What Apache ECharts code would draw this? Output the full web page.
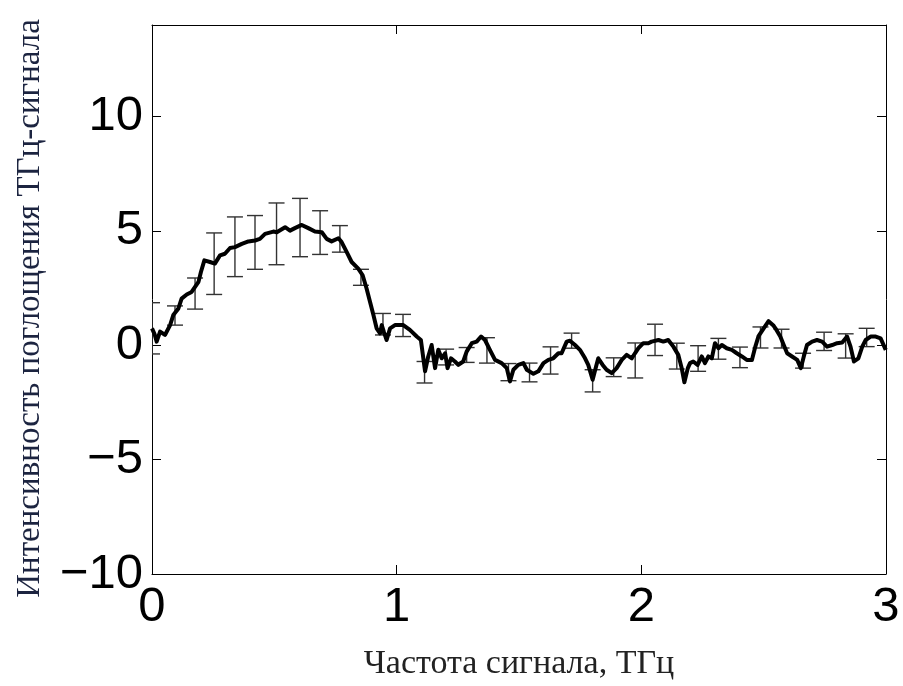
<!DOCTYPE html>
<html>
<head>
<meta charset="utf-8">
<script src="https://cdn.jsdelivr.net/npm/echarts@6/dist/echarts.min.js"></script>
<style>
html,body{margin:0;padding:0;background:#fff;}
#chart{width:903px;height:686px;}
</style>
</head>
<body>
<div id="chart"></div>
<script>
// Signal: frequency (THz) and absorption intensity
const freq = [0.000,0.010,0.019,0.033,0.053,0.074,0.087,0.108,0.121,0.142,0.162,0.176,0.190,0.200,0.214,0.237,0.257,0.278,0.298,0.319,0.339,0.367,0.394,0.421,0.441,0.462,0.496,0.510,0.544,0.564,0.584,0.612,0.639,0.666,0.694,0.714,0.734,0.762,0.775,0.796,0.816,0.843,0.861,0.877,0.891,0.905,0.918,0.932,0.939,0.948,0.959,0.973,0.993,1.027,1.054,1.082,1.099,1.116,1.129,1.143,1.157,1.170,1.184,1.198,1.208,1.222,1.238,1.252,1.272,1.286,1.307,1.327,1.345,1.361,1.381,1.402,1.429,1.450,1.463,1.477,1.497,1.518,1.532,1.559,1.579,1.600,1.620,1.640,1.661,1.674,1.695,1.708,1.729,1.749,1.770,1.783,1.801,1.815,1.824,1.842,1.858,1.879,1.899,1.920,1.940,1.961,1.974,1.988,2.008,2.029,2.042,2.070,2.090,2.110,2.131,2.151,2.165,2.176,2.190,2.199,2.212,2.230,2.247,2.260,2.274,2.288,2.301,2.315,2.329,2.349,2.370,2.390,2.411,2.431,2.452,2.466,2.479,2.500,2.520,2.541,2.548,2.568,2.582,2.596,2.616,2.637,2.652,2.664,2.677,2.698,2.718,2.739,2.759,2.780,2.800,2.821,2.841,2.855,2.869,2.887,2.903,2.917,2.937,2.958,2.978,2.999];
const intensity = [0.74,0.50,0.16,0.60,0.45,0.88,1.32,1.61,2.04,2.22,2.33,2.55,2.77,3.20,3.71,3.64,3.57,3.93,4.00,4.25,4.29,4.43,4.54,4.58,4.65,4.87,4.97,4.94,5.16,5.01,5.12,5.26,5.12,4.97,4.94,4.65,4.54,4.68,4.51,4.07,3.64,3.35,3.06,2.48,1.90,1.32,0.74,0.52,0.88,0.57,0.23,0.74,0.88,0.88,0.67,0.38,0.23,-1.14,-0.49,0.01,-1.00,-0.20,-0.57,-0.35,-1.00,-0.57,-0.71,-0.86,-0.71,-0.28,0.09,0.16,0.38,0.23,-0.20,-0.64,-0.78,-1.00,-1.58,-1.07,-0.86,-0.78,-1.07,-1.25,-1.14,-0.78,-0.64,-0.57,-0.35,-0.35,0.16,0.20,0.01,-0.20,-0.57,-0.86,-1.51,-0.93,-0.57,-0.86,-1.07,-1.22,-1.00,-0.64,-0.42,-0.57,-0.35,-0.13,0.09,0.09,0.16,0.23,0.16,0.23,-0.06,-0.42,-1.00,-1.62,-1.00,-0.78,-0.71,-0.86,-0.49,-0.78,-0.49,-0.57,0.09,-0.13,0.01,-0.13,-0.20,-0.35,-0.49,-0.64,-0.64,-0.06,0.40,0.74,1.05,0.85,0.74,0.38,0.01,-0.35,-0.49,-0.64,-1.00,-0.49,0.01,0.16,0.23,0.16,-0.06,0.01,0.09,0.12,0.38,-0.06,-0.71,-0.57,-0.06,0.23,0.38,0.38,0.30,-0.20];

// Error bars: position, upper and lower limits
const errX  = [0.000,0.094,0.176,0.254,0.339,0.421,0.509,0.605,0.687,0.768,0.854,0.944,1.026,1.114,1.202,1.286,1.369,1.457,1.543,1.629,1.715,1.801,1.887,1.975,2.056,2.145,2.232,2.315,2.403,2.487,2.573,2.661,2.747,2.835,2.921];
const errHi = [1.86,1.72,2.94,4.91,5.61,5.67,6.22,6.42,5.88,5.23,3.32,1.39,1.35,-0.71,-0.17,-0.10,0.33,-0.80,-0.78,-0.07,0.53,-1.07,-0.55,0.10,0.92,0.09,-0.02,0.30,-0.08,0.80,0.70,-0.35,0.57,0.50,0.74];
const errLo = [-0.38,0.88,1.58,2.22,3.00,3.32,3.52,3.87,3.97,4.07,2.62,0.45,0.38,-1.65,-0.86,-0.75,-0.78,-1.55,-1.60,-1.26,-0.13,-2.04,-1.37,-1.43,-0.45,-1.04,-1.14,-0.61,-0.98,-0.12,-0.12,-1.00,-0.23,-0.56,-0.06];

const xTicks = [0, 1, 2, 3];
const yTicks = [-10, -5, 0, 5, 10];

const chart = echarts.init(document.getElementById('chart'), null, {renderer: 'canvas'});

const lineData = freq.map((f, i) => [f, intensity[i]]);
const errData = errX.map((x, i) => [x, errHi[i], errLo[i]]);

const fmt = v => (v < 0 ? '\u2212' + Math.abs(v) : String(v));
const labelFont = {fontFamily: 'Liberation Sans, Arial, sans-serif', fontSize: 49, color: '#000'};
const lineStyleAxis = {color: '#000', width: 1};

chart.setOption({
  animation: false,
  backgroundColor: '#fff',
  grid: {left: 152, right: 17, top: 25, bottom: 109, containLabel: false},
  xAxis: [{
    type: 'value', min: 0, max: 3, interval: 1, position: 'bottom',
    axisLine: {show: true, onZero: false, lineStyle: lineStyleAxis},
    axisTick: {show: true, inside: true, length: 9, lineStyle: lineStyleAxis, customValues: xTicks},
    axisLabel: Object.assign({margin: 9, formatter: fmt, customValues: xTicks}, labelFont),
    splitLine: {show: false},
    name: 'Частота сигнала, ТГц', nameLocation: 'middle', nameGap: 73,
    nameTextStyle: {fontFamily: 'Liberation Serif, Times New Roman, serif', fontSize: 34, color: '#222'}
  }, {
    type: 'value', min: 0, max: 3, interval: 1, position: 'top',
    axisLine: {show: true, onZero: false, lineStyle: lineStyleAxis},
    axisTick: {show: true, inside: true, length: 9, lineStyle: lineStyleAxis, customValues: xTicks},
    axisLabel: {show: false}, splitLine: {show: false}
  }],
  yAxis: [{
    type: 'value', min: -10, max: 14, interval: 5, position: 'left',
    axisLine: {show: true, onZero: false, lineStyle: lineStyleAxis},
    axisTick: {show: true, inside: true, length: 9, lineStyle: lineStyleAxis, customValues: yTicks},
    axisLabel: Object.assign({margin: 9, formatter: fmt, customValues: yTicks}, labelFont),
    splitLine: {show: false},
    name: 'Интенсивность поглощения ТГц-сигнала', nameLocation: 'middle', nameGap: 105, nameRotate: 90,
    nameTextStyle: {fontFamily: 'Liberation Serif, Times New Roman, serif', fontSize: 33, color: '#1c2440', padding: [0, 18, 0, 0]}
  }, {
    type: 'value', min: -10, max: 14, interval: 5, position: 'right',
    axisLine: {show: true, onZero: false, lineStyle: lineStyleAxis},
    axisTick: {show: true, inside: true, length: 9, lineStyle: lineStyleAxis, customValues: yTicks},
    axisLabel: {show: false}, splitLine: {show: false}
  }],
  series: [{
    type: 'custom',
    xAxisIndex: 0, yAxisIndex: 0,
    clip: true,
    data: errData,
    z: 2,
    renderItem: function (params, api) {
      const x = api.value(0);
      const top = api.coord([x, api.value(1)]);
      const bot = api.coord([x, api.value(2)]);
      const hw = 8;
      const style = {stroke: '#333', lineWidth: 1.4, fill: null};
      return {
        type: 'group',
        children: [
          {type: 'line', shape: {x1: top[0], y1: top[1], x2: bot[0], y2: bot[1]}, style: style},
          {type: 'line', shape: {x1: top[0] - hw, y1: top[1], x2: top[0] + hw, y2: top[1]}, style: style},
          {type: 'line', shape: {x1: bot[0] - hw, y1: bot[1], x2: bot[0] + hw, y2: bot[1]}, style: style}
        ]
      };
    }
  }, {
    type: 'line',
    xAxisIndex: 0, yAxisIndex: 0,
    data: lineData,
    showSymbol: false,
    symbol: 'none',
    lineStyle: {color: '#000', width: 4, join: 'round'},
    z: 3
  }]
});
</script>
</body>
</html>
